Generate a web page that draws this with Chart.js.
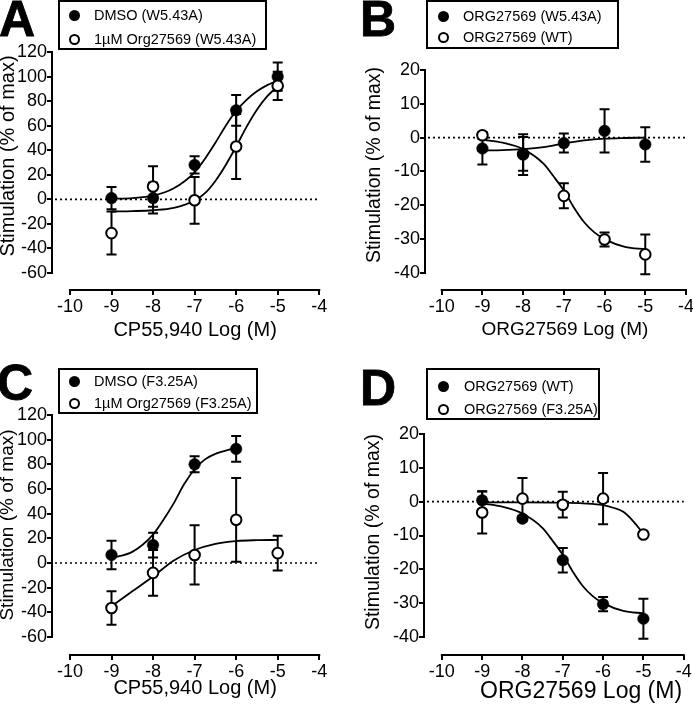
<!DOCTYPE html>
<html>
<head>
<meta charset="utf-8">
<script src="https://cdn.jsdelivr.net/npm/chart.js@4.4.0/dist/chart.umd.min.js"></script>
<style>
  body { margin: 0; width: 693px; height: 705px; overflow: hidden; background: #fff; position: relative;
         font-family: "Liberation Sans", Arial, sans-serif; color: #000; }
  canvas { position: absolute; }
  .letter { position: absolute; font-weight: bold; font-size: 50px; line-height: 1;
            -webkit-text-stroke: 0.8px #000; z-index: 3; }
  .legend { position: absolute; border: 2px solid #000; box-sizing: border-box; background: #fff; z-index: 2; }
  .item { position: absolute; font-size: 14.5px; line-height: 17px; white-space: nowrap; z-index: 3; }
  .dot { position: absolute; width: 11px; height: 11px; border-radius: 50%; box-sizing: border-box;
         border: 2px solid #000; z-index: 3; }
</style>
</head>
<body>
<canvas id="chartA" width="346" height="352" style="left:0;top:0"></canvas>
<canvas id="chartB" width="370" height="352" style="left:346px;top:0"></canvas>
<canvas id="chartC" width="346" height="353" style="left:0;top:352px"></canvas>
<canvas id="chartD" width="400" height="353" style="left:346px;top:352px"></canvas>

<script>
// shared x values (log M)
const doses = [-9, -8, -7, -6, -5];
const xTicks = [-10, -9, -8, -7, -6, -5, -4];
const yTicksCP = [-60, -40, -20, 0, 20, 40, 60, 80, 100, 120];
const yTicksORG = [-40, -30, -20, -10, 0, 10, 20];

// Panel A
const aLabels = ["DMSO (W5.43A)", "1\u00b5M Org27569 (W5.43A)"];
const aDmsoMean = [1, 1, 28, 72.5, 100];
const aDmsoErr = [9, 12.5, 7, 12.5, 11.5];
const aOrgMean = [-27.5, 10.5, -0.8, 43, 92.5];
const aOrgErr = [17.5, 16.5, 19, 26.5, 11.5];
const aCurveX = [-9, -8.5, -8, -7.5, -7, -6.75, -6.5, -6.25, -6, -5.75, -5.5, -5.25, -5];
const aDmsoCurve = [0.5, 1, 3, 9, 22, 33, 46, 60, 72, 81, 88, 93, 96.5];
const aOrgCurve = [-9.9, -9.6, -8.9, -7, -1, 5, 15, 28, 43, 59, 73, 84, 92];

// Panel B
const bLabels = ["ORG27569 (W5.43A)", "ORG27569 (WT)"];
const bMutMean = [-3.2, -5, -1.6, 2, -2];
const bMutErr = [4.7, 6, 2.8, 6.4, 5.1];
const bWtMean = [0.7, -4.8, -17.2, -30.1, -34.5];
const bWtErr = [1, 5, 3.7, 2.1, 5.9];
const bMutCurveX = [-9, -8.5, -8, -7.5, -7, -6.5, -6, -5.5, -5];
const bMutCurve = [-3.8, -3.7, -3.4, -2.8, -1.7, -0.8, -0.3, -0.1, 0];
const bWtCurveX = [-9, -8.5, -8, -7.5, -7.25, -7, -6.75, -6.5, -6.25, -6, -5.5, -5];
const bWtCurve = [-0.6, -1.5, -3.4, -7.7, -11.5, -15.6, -20.7, -25, -28, -30, -32.3, -33];

// Panel C
const cLabels = ["DMSO (F3.25A)", "1\u00b5M Org27569 (F3.25A)"];
const cDmsoDoses = [-9, -8, -7, -6];
const cDmsoMean = [6.5, 14.5, 80, 92.5];
const cDmsoErr = [11.5, 10, 6.5, 10.5];
const cOrgMean = [-36.5, -8, 6.5, 35, 8];
const cOrgErr = [13.5, 18.5, 24, 34, 14];
const cDmsoCurveX = [-9, -8.5, -8, -7.75, -7.5, -7.25, -7, -6.75, -6.5, -6];
const cDmsoCurve = [4, 9, 23, 35, 48.5, 64, 76, 84, 88.5, 93.5];
const cOrgCurveX = [-9, -8.5, -8, -7.5, -7, -6.5, -6, -5.5, -5];
const cOrgCurve = [-35, -23, -11, 2, 10.5, 15.5, 17.8, 18.5, 18.7];

// Panel D
const dLabels = ["ORG27569 (WT)", "ORG27569 (F3.25A)"];
const dWtMean = [0.4, -5, -17.3, -30.3, -34.6];
const dWtErr = [2.7, 0.8, 3.6, 2.1, 5.9];
const dMutMean = [-3.2, 0.9, -0.9, 0.9, -9.7];
const dMutErr = [6.2, 6.1, 3.8, 7.6, 0.6];
const dWtCurveX = bWtCurveX;
const dWtCurve = [-0.5, -1.5, -3.5, -7.8, -11.6, -15.7, -20.7, -25, -28, -30, -32.3, -33];
const dMutCurveX = [-9, -8, -7, -6.5, -6, -5.75, -5.5, -5.25, -5];
const dMutCurve = [-0.2, -0.2, -0.3, -0.5, -1, -1.8, -3, -5.8, -9.5];

Chart.defaults.font.family = '"Liberation Sans", Arial, sans-serif';
Chart.defaults.color = "#000";

const pts = (xs, ys) => xs.map((x, i) => ({ x: x, y: ys[i] }));

function pointSet(xs, mean, err, filled, order) {
  return {
    data: pts(xs, mean), err: err, order: order,
    pointRadius: filled ? 5.8 : 5.3, pointHoverRadius: 5.8,
    pointBackgroundColor: filled ? "#000" : "#fff",
    pointBorderColor: "#000", pointBorderWidth: filled ? 0.5 : 2,
    showLine: false
  };
}

function curveSet(xs, ys) {
  return {
    data: pts(xs, ys), order: 5, showLine: true, pointRadius: 0,
    borderColor: "#000", borderWidth: 1.8, cubicInterpolationMode: "monotone", fill: false
  };
}

// error bars, zero line and detached axis lines
const decor = {
  id: "decor",
  beforeDatasetsDraw(chart) {
    const { ctx, chartArea } = chart;
    const xs = chart.scales.x, ys = chart.scales.y;
    ctx.save();
    // dotted zero line
    ctx.strokeStyle = "#000";
    ctx.lineWidth = 1.6;
    ctx.setLineDash([2, 3]);
    ctx.beginPath();
    ctx.moveTo(chartArea.left + 3, ys.getPixelForValue(0));
    ctx.lineTo(xs.getPixelForValue(-4), ys.getPixelForValue(0));
    ctx.stroke();
    ctx.setLineDash([]);
    // error bars
    ctx.lineWidth = 2;
    chart.data.datasets.forEach(ds => {
      if (!ds.err) return;
      ds.data.forEach((p, i) => {
        const px = xs.getPixelForValue(p.x);
        const top = ys.getPixelForValue(p.y + ds.err[i]);
        const bot = ys.getPixelForValue(p.y - ds.err[i]);
        ctx.beginPath();
        ctx.moveTo(px, top); ctx.lineTo(px, bot);
        ctx.moveTo(px - 5, top); ctx.lineTo(px + 5, top);
        ctx.moveTo(px - 5, bot); ctx.lineTo(px + 5, bot);
        ctx.stroke();
      });
    });
    ctx.restore();
  },
  afterDraw(chart) {
    const { ctx, chartArea } = chart;
    const xs = chart.scales.x, ys = chart.scales.y;
    const yv = ys.ticks.map(t => t.value), xv = xs.ticks.map(t => t.value);
    ctx.save();
    ctx.strokeStyle = "#000";
    ctx.lineWidth = 2;
    ctx.beginPath();
    ctx.moveTo(chartArea.left, ys.getPixelForValue(Math.max(...yv)) - 1);
    ctx.lineTo(chartArea.left, ys.getPixelForValue(Math.min(...yv)) + 1);
    ctx.moveTo(xs.getPixelForValue(Math.min(...xv)) - 1, chartArea.bottom);
    ctx.lineTo(xs.getPixelForValue(Math.max(...xv)) + 1, chartArea.bottom);
    ctx.stroke();
    ctx.restore();
  }
};

function makePanel(id, p) {
  return new Chart(document.getElementById(id), {
    type: "scatter",
    data: { datasets: p.datasets },
    options: {
      responsive: false,
      animation: false,
      layout: { padding: { top: p.padTop, right: p.padRight, left: 0, bottom: 0 } },
      plugins: { legend: { display: false }, tooltip: { enabled: false } },
      scales: {
        x: {
          type: "linear", min: p.xMin, max: p.xMax,
          afterBuildTicks: s => { s.ticks = xTicks.map(v => ({ value: v })); },
          afterFit: s => { s.height = p.xAxisH; },
          border: { display: false },
          grid: { drawOnChartArea: false, drawTicks: true, tickLength: 5, lineWidth: 2, color: "#000" },
          ticks: { font: { size: 18 }, padding: 1, maxRotation: 0, autoSkip: false },
          title: { display: true, text: p.xTitle, font: { size: p.xTitleSize }, padding: { top: 0, bottom: p.xTitlePad } }
        },
        y: {
          type: "linear", min: p.yMin, max: p.yMax,
          afterBuildTicks: s => { s.ticks = p.yTicks.map(v => ({ value: v })); },
          afterFit: s => { s.width = p.yAxisW; },
          border: { display: false },
          grid: { drawOnChartArea: false, drawTicks: true, tickLength: 5, lineWidth: 2, color: "#000" },
          ticks: { font: { size: 18 }, padding: 0, autoSkip: false },
          title: { display: true, text: "Stimulation (% of max)", font: { size: p.yTitleSize }, padding: { top: p.yTitlePad, bottom: 0 } }
        }
      }
    },
    plugins: [decor]
  });
}

makePanel("chartA", {
  datasets: [
    pointSet(doses, aOrgMean, aOrgErr, false, 0),
    pointSet(doses, aDmsoMean, aDmsoErr, true, 1),
    curveSet(aCurveX, aDmsoCurve),
    curveSet(aCurveX, aOrgCurve)
  ],
  xMin: -10.432, xMax: -3.544, yMin: -73.85, yMax: 144.43, yTicks: yTicksCP,
  padTop: 22, padRight: 7, xAxisH: 62, yAxisW: 52,
  xTitle: "CP55,940 Log (M)", xTitleSize: 20, xTitlePad: 10, yTitleSize: 20, yTitlePad: -4
});

makePanel("chartB", {
  datasets: [
    pointSet(doses, bMutMean, bMutErr, true, 0),
    pointSet(doses, bWtMean, bWtErr, false, 1),
    curveSet(bMutCurveX, bMutCurve),
    curveSet(bWtCurveX, bWtCurve)
  ],
  xMin: -10.41, xMax: -3.533, yMin: -45.03, yMax: 28.87, yTicks: yTicksORG,
  padTop: 40, padRight: 11, xAxisH: 62, yAxisW: 79,
  xTitle: "ORG27569 Log (M)", xTitleSize: 19, xTitlePad: 10.6, yTitleSize: 19.5, yTitlePad: 17.3
});

makePanel("chartC", {
  datasets: [
    pointSet(doses, cOrgMean, cOrgErr, false, 0),
    pointSet(cDmsoDoses, cDmsoMean, cDmsoErr, true, 1),
    curveSet(cDmsoCurveX, cDmsoCurve),
    curveSet(cOrgCurveX, cOrgCurve)
  ],
  xMin: -10.432, xMax: -3.544, yMin: -74.6, yMax: 136.2, yTicks: yTicksCP,
  padTop: 43, padRight: 7, xAxisH: 50, yAxisW: 52,
  xTitle: "CP55,940 Log (M)", xTitleSize: 20, xTitlePad: 5, yTitleSize: 19, yTitlePad: -3.4
});

makePanel("chartD", {
  datasets: [
    pointSet(doses, dWtMean, dWtErr, true, 0),
    pointSet(doses, dMutMean, dMutErr, false, 1),
    curveSet(dWtCurveX, dWtCurve),
    curveSet(dMutCurveX, dMutCurve)
  ],
  xMin: -10.443, xMax: -2.648, yMin: -45.32, yMax: 27.39, yTicks: yTicksORG,
  padTop: 57, padRight: 5, xAxisH: 50, yAxisW: 78,
  xTitle: "ORG27569 Log (M)", xTitleSize: 23, xTitlePad: -0.8, yTitleSize: 19.5, yTitlePad: 15.8
});

// panel letters and boxed legends (html overlay)
function addEl(cls, css, text) {
  const el = document.createElement("div");
  el.className = cls;
  el.style.cssText = css;
  if (text) el.textContent = text;
  document.body.appendChild(el);
}
function letter(ch, left, top) {
  addEl("letter", `left:${left}px;top:${top}px`, ch);
}
function legend(box, labels, dotX, textX, rowsY, fills) {
  addEl("legend", `left:${box[0]}px;top:${box[1]}px;width:${box[2]}px;height:${box[3]}px`);
  labels.forEach((t, i) => {
    addEl("dot", `left:${dotX - 5.5}px;top:${rowsY[i] - 5.5}px;background:${fills[i] ? "#000" : "#fff"}`);
    addEl("item", `left:${textX}px;top:${rowsY[i] - 8.5}px`, t);
  });
}

letter("A", -1, -6);
letter("B", 360, -6);
letter("C", -3, 358);
letter("D", 360, 363);

legend([58, 0, 209, 50], aLabels, 74, 94, [15, 39], [true, false]);
legend([426, 0, 193, 49], bLabels, 443, 463, [16, 37], [true, false]);
legend([58, 368, 200, 46], cLabels, 74, 94, [381, 403], [true, false]);
legend([426, 368, 174, 52], dLabels, 443, 464, [386, 409], [true, false]);
</script>
</body>
</html>
